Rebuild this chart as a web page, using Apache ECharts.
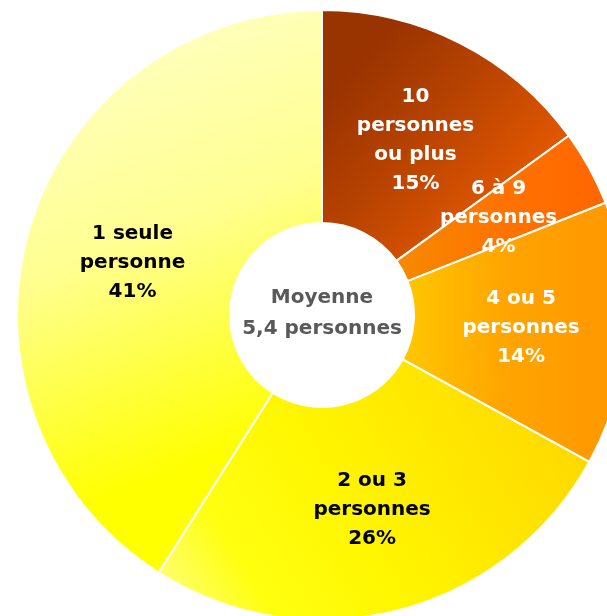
<!DOCTYPE html>
<html><head><meta charset="utf-8">
<script src="https://cdn.jsdelivr.net/npm/echarts@6/dist/echarts.min.js"></script>
<style>html,body{margin:0;padding:0;background:#fff}#c{width:607px;height:616px}</style>
</head><body><div id="c"></div>
<script>
const categories = ['10\npersonnes\nou plus', '6 à 9\npersonnes', '4 ou 5\npersonnes', '2 ou 3\npersonnes', '1 seule\npersonne'];
const values = [15, 4, 14, 26, 41];
const labelColors = ['#ffffff', '#ffffff', '#ffffff', '#000000', '#000000'];
const centerText = 'Moyenne\n5,4 personnes';

const G = echarts.graphic.LinearGradient;
const fills = [
  new G(0.15, 0.2, 1, 0.95, [{offset:0,color:'#993300'},{offset:0.35,color:'#B84300'},{offset:1,color:'#FF6600'}]),
  new G(0, 0.5, 1, 0.5, [{offset:0,color:'#F58A00'},{offset:0.5,color:'#FF7300'},{offset:1,color:'#FF6600'}]),
  new G(0, 0.5, 1, 0.5, [{offset:0,color:'#FFC800'},{offset:0.45,color:'#FFA500'},{offset:1,color:'#FF9600'}]),
  new G(1, 0, 0, 1, [{offset:0,color:'#FFD200'},{offset:0.55,color:'#FFF500'},{offset:0.8,color:'#FFFF10'},{offset:1,color:'#FFFF90'}]),
  new G(0.3, 0, 0.85, 0.75, [{offset:0,color:'#FFFFC8'},{offset:0.5,color:'#FFFF90'},{offset:1,color:'#FFFF00'}])
];
const labelOffsets = [[2, 5], [0, 0], [-2, 0], [0, 0], [4, 4]];

const data = categories.map((c, i) => ({
  name: c, value: values[i],
  itemStyle: { color: fills[i] },
  label: { color: labelColors[i], offset: labelOffsets[i] }
}));

const chart = echarts.init(document.getElementById('c'), null, {renderer:'canvas'});
chart.setOption({
  animation: false,
  series: [{
    type: 'pie',
    center: [322, 315],
    radius: [92, 305],
    startAngle: 90,
    clockwise: true,
    avoidLabelOverlap: false,
    minShowLabelAngle: 0,
    itemStyle: { borderColor: '#ffffff', borderWidth: 2 },
    label: {
      show: true, position: 'inside',
      formatter: p => p.name + '\n' + p.value + '%',
      fontFamily: 'DejaVu Sans', fontWeight: 'bold', fontSize: 20, lineHeight: 29,
      align: 'center'
    },
    labelLine: { show: false },
    emphasis: { disabled: true },
    data: data
  }],
  graphic: [{
    type: 'text', x: 322, y: 313,
    style: {
      text: centerText, fill: '#595959', align: 'center', verticalAlign: 'middle',
      font: 'bold 20px "DejaVu Sans"', lineHeight: 31
    }
  }]
});
// Make sure labels of narrow sectors stay visible (as in the reference)
try {
  const sData = chart.getModel().getSeriesByIndex(0).getData();
  sData.each(function (idx) {
    const el = sData.getItemGraphicEl(idx);
    const t = el && el.getTextContent && el.getTextContent();
    if (t && t.ignore) { t.ignore = false; if (t.states && t.states.normal) t.states.normal.ignore = false; t.markRedraw(); }
  });
  chart.getZr().refreshImmediately();
} catch (e) { console.error(e); }
</script></body></html>
